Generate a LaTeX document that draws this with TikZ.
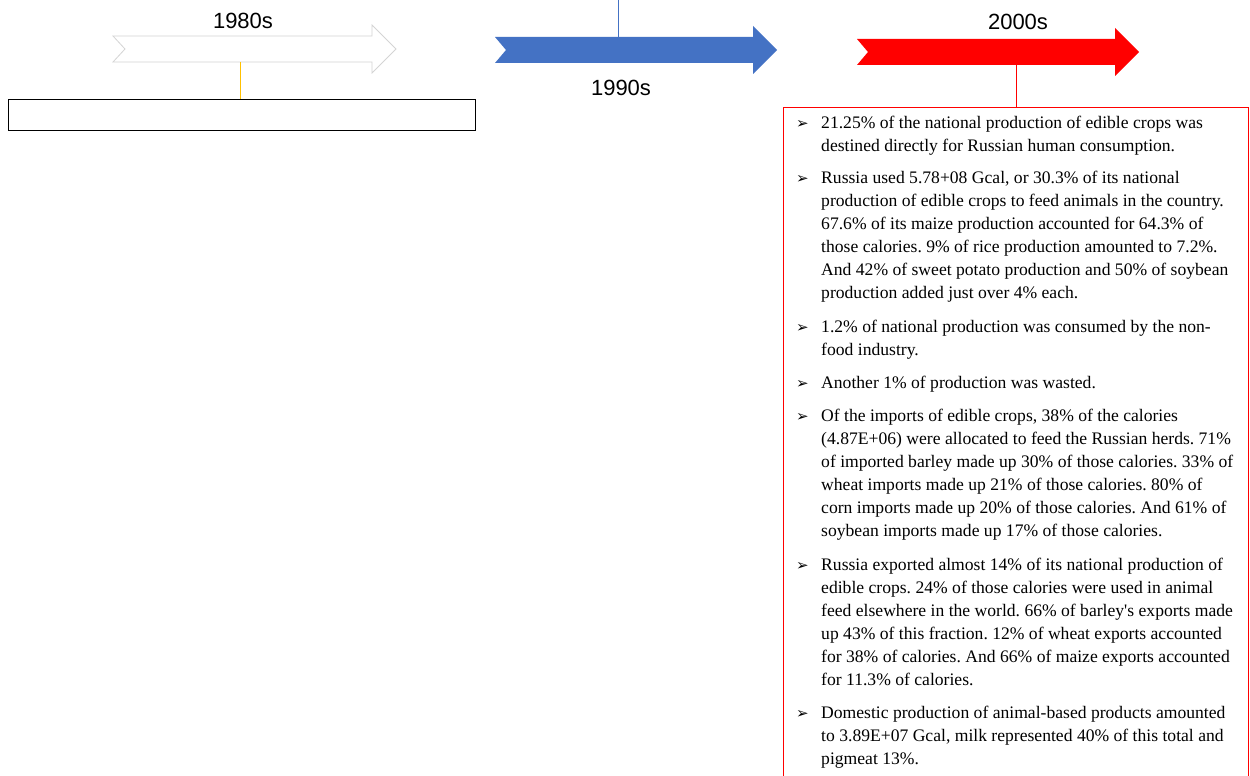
\documentclass[tikz,border=0pt]{standalone}
\usepackage{fontspec}
\setmainfont{Liberation Serif}[Ligatures=TeXOff]
\newfontfamily\headfont{Liberation Sans}
\newfontfamily\symfont{DejaVu Sans}
\definecolor{arrblue}{HTML}{4472C4}
\definecolor{arrred}{HTML}{FF0000}
\definecolor{arrgray}{HTML}{D4D4D4}
\definecolor{linkyellow}{HTML}{FFC000}
\tikzset{
  headlabel/.style={font=\headfont\fontsize{22}{26}\selectfont, inner sep=0pt},
  bodytext/.style={font=\frenchspacing\fontsize{17.6}{23}\selectfont, align=left, inner sep=0pt, anchor=north west},
  bul/.style={font=\symfont\fontsize{15}{17}\selectfont, inner sep=0pt, anchor=base west},
}
\newcommand{\notcharrow}[6]{% left x, notch x, head x, tip x, mid y, style
  \path[#6] (#1,#5-13) -- (#3,#5-13) -- (#3,#5-24) -- (#4,#5) -- (#3,#5+24) -- (#3,#5+13) -- (#1,#5+13) -- (#2,#5) -- cycle;}
\begin{document}
\begin{tikzpicture}[x=1pt,y=-1pt]
\useasboundingbox (0,0) rectangle (1250,776);
\clip (0,0) rectangle (1250,776);
\fill[white] (0,0) rectangle (1250,776);

% arrows
\notcharrow{113}{125}{372}{396}{49}{draw=arrgray, fill=white, line width=0.8pt}
\notcharrow{495}{506}{753}{777}{50}{fill=arrblue}
\notcharrow{857}{868}{1115}{1139}{52}{fill=arrred}

\node[headlabel] (l80) at (243,21) {1980s};
\node[headlabel] (l90) at (621,88) {1990s};
\node[headlabel] (l00) at (1018,22) {2000s};

% boxes
\node[draw=black, line width=1.3pt, minimum width=467pt, minimum height=31pt, inner sep=0pt, anchor=north west] (box80) at (8,99) {};
\node[draw=arrred, line width=1.2pt, minimum width=465pt, minimum height=700pt, inner sep=0pt, anchor=north west] (box00) at (783,107) {};

% connectors
\coordinate (a80) at (240,62);
\coordinate (a90) at (618,37);
\coordinate (top90) at (618,0);
\coordinate (a00) at (1016,65);
\draw[linkyellow, line width=0.8pt] (a80) -- (a80 |- box80.north);
\draw[arrblue, line width=0.8pt] (top90) -- (a90);
\draw[arrred, line width=0.8pt] (a00) -- (a00 |- box00.north);

% bullets and text
\node[bul] (b1) at (796,128) {➢};
\node[bodytext] (p1) at (821,112) {\strut 21.25\% of the national production of edible crops was\\destined directly for Russian human consumption.};
\node[bul] (b2) at (796,183) {➢};
\node[bodytext] (p2) at (821,167) {\strut Russia used 5.78+08 Gcal, or 30.3\% of its national\\production of edible crops to feed animals in the country.\\67.6\% of its maize production accounted for 64.3\% of\\those calories. 9\% of rice production amounted to 7.2\%.\\And 42\% of sweet potato production and 50\% of soybean\\production added just over 4\% each.};
\node[bul] (b3) at (796,332) {➢};
\node[bodytext] (p3) at (821,316) {\strut 1.2\% of national production was consumed by the non-\\food industry.};
\node[bul] (b4) at (796,388) {➢};
\node[bodytext] (p4) at (821,372) {\strut Another 1\% of production was wasted.};
\node[bul] (b5) at (796,421) {➢};
\node[bodytext] (p5) at (821,405) {\strut Of the imports of edible crops, 38\% of the calories\\(4.87E+06) were allocated to feed the Russian herds. 71\%\\of imported barley made up 30\% of those calories. 33\% of\\wheat imports made up 21\% of those calories. 80\% of\\corn imports made up 20\% of those calories. And 61\% of\\soybean imports made up 17\% of those calories.};
\node[bul] (b6) at (796,570) {➢};
\node[bodytext] (p6) at (821,554) {\strut Russia exported almost 14\% of its national production of\\edible crops. 24\% of those calories were used in animal\\feed elsewhere in the world. 66\% of barley's exports made\\up 43\% of this fraction. 12\% of wheat exports accounted\\for 38\% of calories. And 66\% of maize exports accounted\\for 11.3\% of calories.};
\node[bul] (b7) at (796,718) {➢};
\node[bodytext] (p7) at (821,702) {\strut Domestic production of animal-based products amounted\\to 3.89E+07 Gcal, milk represented 40\% of this total and\\pigmeat 13\%.};
\end{tikzpicture}
\end{document}
